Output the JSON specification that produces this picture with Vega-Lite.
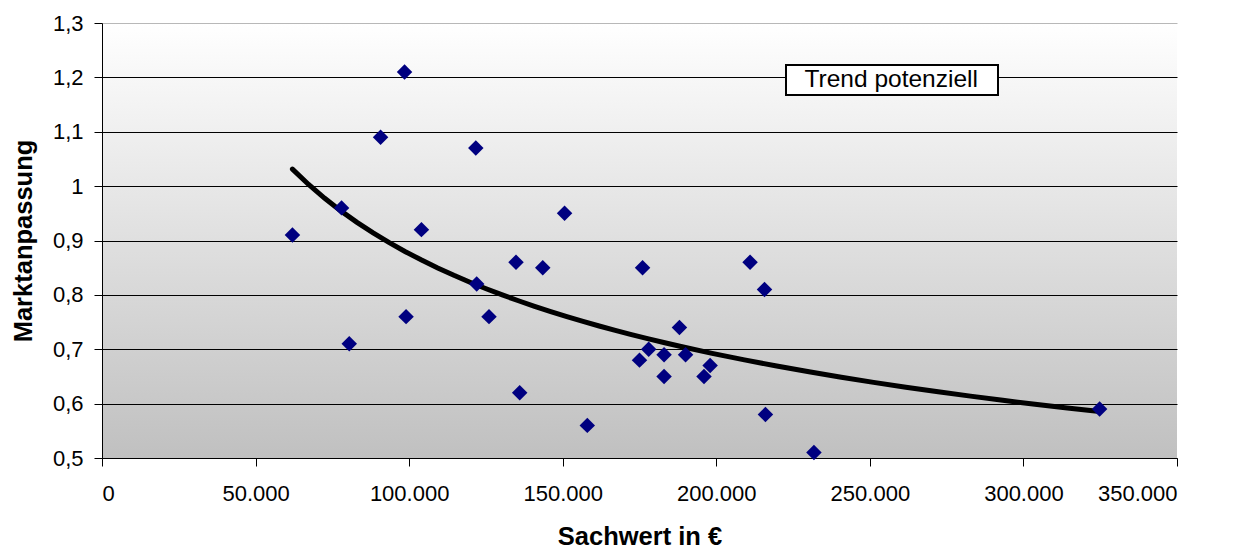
{
  "$schema": "https://vega.github.io/schema/vega-lite/v6.json",
  "autosize": "none",
  "width": 1075,
  "height": 435,
  "padding": {"left": 102, "top": 23, "right": 57, "bottom": 91},
  "background": "white",
  "data": {
    "values": [
      {"sachwert": 62000, "markt": 0.91},
      {"sachwert": 78000, "markt": 0.96},
      {"sachwert": 80500, "markt": 0.71},
      {"sachwert": 90700, "markt": 1.09},
      {"sachwert": 98500, "markt": 1.21},
      {"sachwert": 99000, "markt": 0.76},
      {"sachwert": 104000, "markt": 0.92},
      {"sachwert": 121700, "markt": 1.07},
      {"sachwert": 122000, "markt": 0.82},
      {"sachwert": 126000, "markt": 0.76},
      {"sachwert": 134800, "markt": 0.86},
      {"sachwert": 136000, "markt": 0.62},
      {"sachwert": 143500, "markt": 0.85},
      {"sachwert": 150600, "markt": 0.95},
      {"sachwert": 158000, "markt": 0.56},
      {"sachwert": 175000, "markt": 0.68},
      {"sachwert": 176000, "markt": 0.85},
      {"sachwert": 178000, "markt": 0.70},
      {"sachwert": 183000, "markt": 0.69},
      {"sachwert": 183000, "markt": 0.65},
      {"sachwert": 188000, "markt": 0.74},
      {"sachwert": 190000, "markt": 0.69},
      {"sachwert": 196000, "markt": 0.65},
      {"sachwert": 198000, "markt": 0.67},
      {"sachwert": 211000, "markt": 0.86},
      {"sachwert": 215700, "markt": 0.81},
      {"sachwert": 216000, "markt": 0.58},
      {"sachwert": 231800, "markt": 0.51},
      {"sachwert": 324800, "markt": 0.59}
    ]
  },
  "encoding": {
    "x": {
      "field": "sachwert",
      "type": "quantitative",
      "title": "Sachwert in €",
      "scale": {"domain": [0, 350000], "nice": false, "zero": false},
      "axis": {
        "values": [0, 50000, 100000, 150000, 200000, 250000, 300000, 350000],
        "format": ",.0f",
        "grid": false,
        "labelPadding": 17,
        "titlePadding": 20,
        "titleFontSize": 25.5
      }
    },
    "y": {
      "field": "markt",
      "type": "quantitative",
      "title": "Marktanpassung",
      "scale": {"domain": [0.5, 1.3], "nice": false, "zero": false},
      "axis": {
        "values": [0.5, 0.6, 0.7, 0.8, 0.9, 1.0, 1.1, 1.2, 1.3],
        "format": ".1~f",
        "grid": true,
        "gridColor": {"condition": {"test": "datum.value >= 1.29", "value": "#b8b8b8"}, "value": "black"},
        "gridOpacity": 1,
        "gridWidth": 1,
        "labelPadding": 11,
        "titlePadding": 16,
        "titleFontSize": 25.5
      }
    }
  },
  "layer": [
    {
      "transform": [{"regression": "markt", "on": "sachwert", "method": "pow"}],
      "mark": {"type": "line", "strokeWidth": 5, "strokeCap": "round"},
      "encoding": {
        "stroke": {
          "datum": "Trend potenziell",
          "type": "nominal",
          "scale": {"range": ["black"]},
          "legend": {
            "orient": "none",
            "legendX": 684,
            "legendY": 42,
            "title": "\u00a0",
            "titleOrient": "right",
            "titlePadding": 17,
            "titleFontSize": 1,
            "symbolSize": 1,
            "symbolOpacity": 0,
            "symbolStrokeWidth": 0,
            "labelOffset": -9,
            "labelLimit": 400,
            "clipHeight": 24,
            "padding": 3,
            "strokeColor": "black",
            "fillColor": "white",
            "labelFontSize": 24.5,
            "labelFont": "Liberation Sans",
            "labelColor": "black"
          }
        }
      }
    },
    {
      "mark": {"type": "point", "shape": "diamond", "filled": true, "color": "#000080", "size": 240, "opacity": 1}
    }
  ],
  "config": {
    "locale": {
      "number": {"decimal": ",", "thousands": ".", "grouping": [3], "currency": ["", " €"]}
    },
    "view": {
      "stroke": null,
      "fill": {
        "gradient": "linear",
        "x1": 0, "y1": 0, "x2": 0, "y2": 1,
        "stops": [
          {"offset": 0, "color": "#ffffff"},
          {"offset": 1, "color": "#c0c0c0"}
        ]
      }
    },
    "axis": {
      "domainColor": "black",
      "domainWidth": 1,
      "tickColor": "black",
      "tickSize": 8,
      "tickWidth": 1,
      "labelFont": "Liberation Sans",
      "labelFontSize": 22,
      "labelColor": "black",
      "titleFont": "Liberation Sans",
      "titleFontSize": 25,
      "titleFontWeight": "bold",
      "titleColor": "black"
    },
    "legend": {"strokeWidth": 2}
  }
}
